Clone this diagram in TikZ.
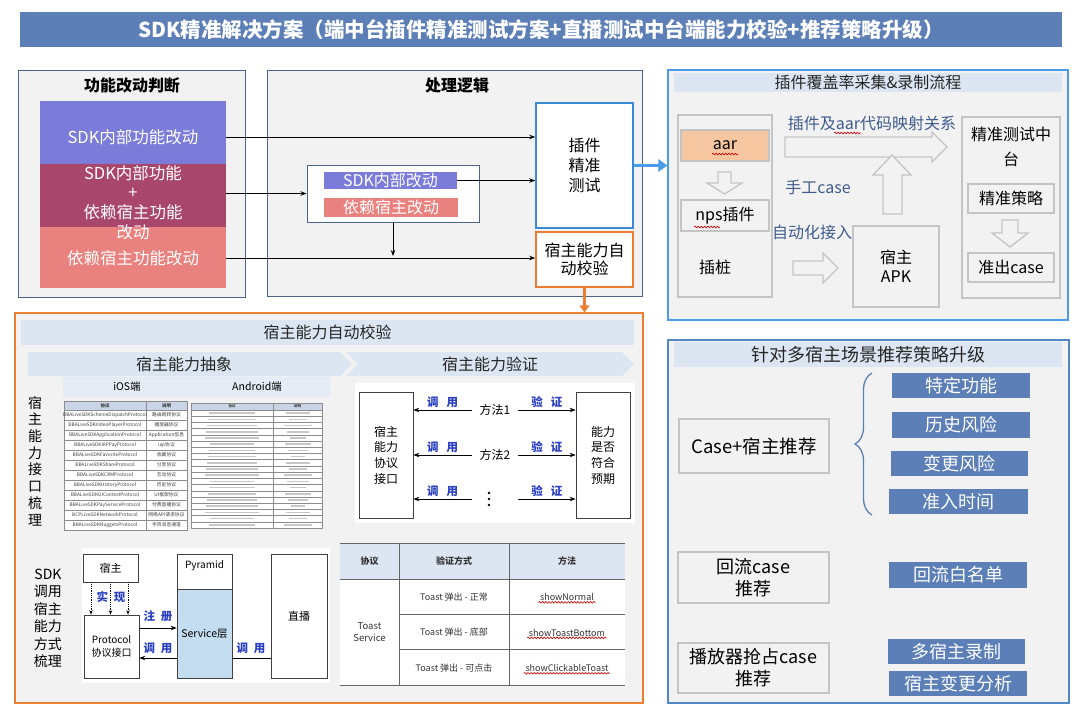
\documentclass[tikz,border=0pt]{standalone}
\usepackage{fontspec}
\setmainfont{Noto Sans CJK SC}
\usetikzlibrary{arrows.meta,calc,shapes.symbols,decorations.pathmorphing,decorations.pathreplacing}
\definecolor{barc}{HTML}{5B7FB6}
\definecolor{panelbg}{HTML}{F2F2F2}
\definecolor{edgec}{HTML}{4A6489}
\definecolor{violetc}{HTML}{7B7BD9}
\definecolor{plumc}{HTML}{A8476B}
\definecolor{salmonc}{HTML}{E9827E}
\definecolor{skyc}{HTML}{4A9BE8}
\definecolor{skyb}{HTML}{5286C6}
\definecolor{plugc}{HTML}{3C89D5}
\definecolor{orangec}{HTML}{ED7D31}
\definecolor{paleblue}{HTML}{DCE6F2}
\definecolor{headc}{HTML}{C9D5E6}
\definecolor{lineg}{HTML}{C4C4C4}
\definecolor{wordc}{HTML}{3F5C8C}
\definecolor{bluec}{HTML}{2A3FC0}
\definecolor{peach}{HTML}{F6C6A0}
\definecolor{servc}{HTML}{C5DDF1}
\newcommand{\fsz}[2]{\fontsize{#1}{#2}\selectfont}
\tikzset{
  ar/.style={-{Stealth[length=6pt,width=4.5pt]},line width=0.9pt,black},
  dotar/.style={-{Stealth[length=4.5pt,width=3.5pt]},densely dotted,line width=0.8pt,black},
  panel/.style={draw=edgec,fill=panelbg,line width=1pt,inner sep=0pt},
  blk/.style={inner sep=0pt},
  wtxt/.style={text=white,font=\fsz{16.5}{19.7},align=center},
  gbox/.style={draw=lineg,fill=panelbg,line width=1.2pt,inner sep=0pt,align=center,font=\fsz{16}{19}},
  wbox/.style={draw=black!75,fill=white,line width=0.7pt,inner sep=0pt,align=center},
  hbar/.style={fill=paleblue,inner sep=0pt,font=\fsz{16}{18},text=black!85},
  chev/.style={signal,fill=paleblue,inner sep=0pt,font=\fsz{16}{18},text=black!85},
  hollow/.style={draw=lineg,fill=panelbg,line width=1.3pt,line join=miter},
  wordt/.style={text=wordc,font=\fsz{16}{18}},
  blu/.style={text=bluec,font=\bfseries\fsz{11.5}{13}},
  tag/.style={fill=barc,text=white,inner sep=0pt,font=\fsz{18}{20}},
  ioscell/.style={inner sep=0pt,font=\fsz{4.8}{5.5},text=black!75},
  tcell/.style={inner sep=1.5pt,font=\fsz{9}{11},text=black!80},
  tline/.style={draw=black!45,line width=0.4pt},
  blurbar/.style={draw=black!22,line width=1.6pt},
  wavy/.style={draw=red!80!black,line width=0.6pt,decorate,decoration={snake,amplitude=0.9pt,segment length=3.2pt}},
  bracec/.style={draw=barc,line width=1.3pt,decorate,decoration={brace,amplitude=17pt}}
}
\begin{document}
\begin{tikzpicture}[x=1pt,y=-1pt]
\fill[white] (0,0) rectangle (1080,713);
\useasboundingbox (0,0) rectangle (1080,713);
\node[fill=barc,minimum width=1042,minimum height=35,inner sep=0pt,text=white,font=\bfseries\fsz{20.5}{22}] (title) at (541,29.5) {SDK精准解决方案（端中台插件精准测试方案+直播测试中台端能力校验+推荐策略升级）};

\node[panel,minimum width=227,minimum height=227] (judge) at (131.5,183.5) {};
\node[font=\bfseries\fsz{16}{19}] (judget) at (132,85) {功能改动判断};
\node[blk,fill=violetc,minimum width=186,minimum height=63] (sdkblk) at (133,132.5) {};
\node[blk,fill=plumc,minimum width=186,minimum height=63] (bothblk) at (133,195.5) {};
\node[blk,fill=salmonc,minimum width=186,minimum height=61] (hostblk) at (133,257.5) {};
\node[wtxt] (sdkt) at (133,137) {SDK内部功能改动};
\node[wtxt] (botht) at (133,202.5) {SDK内部功能\\+\\依赖宿主功能\\改动};
\node[wtxt] (hostt) at (133,258) {依赖宿主功能改动};

\node[panel,minimum width=375,minimum height=226] (logic) at (454.5,183) {};
\node[font=\bfseries\fsz{16}{19}] (logict) at (457,85) {处理逻辑};
\node[draw=edgec,fill=white,line width=1pt,inner sep=0pt,minimum width=172,minimum height=57] (mixbox) at (393,193.5) {};
\node[blk,fill=violetc,text=white,font=\fsz{16}{17},minimum width=133,minimum height=17] (sdkbar) at (390.5,180.5) {SDK内部改动};
\node[blk,fill=salmonc,text=white,font=\fsz{16}{17},minimum width=134,minimum height=19] (hostbar) at (391,207.5) {依赖宿主改动};
\node[draw=plugc,fill=white,line width=1.5pt,inner sep=0pt,align=center,font=\fsz{16}{20},minimum width=97,minimum height=125] (plug) at (584.5,165.5) {插件\\精准\\测试};
\node[draw=orangec,fill=white,line width=1.5pt,inner sep=0pt,align=center,font=\fsz{16}{18.5},minimum width=97,minimum height=55] (autochk) at (584.5,259.5) {宿主能力自\\动校验};
\draw[ar] (sdkblk.east |- sdkt) -- (plug.west |- sdkt);
\draw[ar] (bothblk.east |- mixbox) -- (mixbox.west);
\draw[ar] (sdkbar.east) -- (plug.west |- sdkbar.east);
\draw[ar] (hostblk.east |- hostt) -- (autochk.west |- hostt);
\draw[ar,shorten >=2pt] (mixbox.south) -- (mixbox.south |- hostt);

\node[panel,draw=skyc,line width=1.2pt,minimum width=400,minimum height=250] (cover) at (868,195) {};
\node[hbar,minimum width=388,minimum height=19] (covert) at (868,82.5) {插件覆盖率采集\&录制流程};
\node[gbox,minimum width=94,minimum height=182] (stub) at (725,206) {};
\node[gbox,fill=peach,minimum width=88,minimum height=31] (aar) at (725,145.5) {};
\node[font=\fsz{16}{18}] (aart) at (725,145) {aar};
\draw[hollow] (718,172) -- (731,172) -- (731,183) -- (742,183) -- (724.5,194) -- (707,183) -- (718,183) -- cycle;
\node[gbox,minimum width=88,minimum height=31] (nps) at (725,215.5) {nps插件};
\node[font=\fsz{16}{18}] (stubt) at (715,267) {插桩};
\node[wordt] (mapt) at (872,123) {插件及aar代码映射关系};
\draw[hollow] (785,137) -- (932,137) -- (932,132) -- (947,147) -- (932,162) -- (932,157) -- (785,157) -- cycle;
\draw[hollow] (883,214) -- (883,175) -- (873,175) -- (892,155) -- (911,175) -- (902,175) -- (902,214) -- cycle;
\node[wordt] (manual) at (818,187) {手工case};
\node[wordt] (autoin) at (812,232) {自动化接入};
\draw[hollow] (793,261) -- (823,261) -- (823,253) -- (838,268) -- (823,283) -- (823,275) -- (793,275) -- cycle;
\node[gbox,minimum width=86,minimum height=81] (apk) at (896,266.5) {宿主\\APK};
\node[gbox,minimum width=98,minimum height=181] (center) at (1011,207.5) {};
\node[font=\fsz{16}{25},align=center] (centert) at (1011,146.5) {精准测试中\\台};
\node[gbox,minimum width=86,minimum height=29] (strat) at (1011,198.5) {精准策略};
\draw[hollow] (1002,220) -- (1018,220) -- (1018,233) -- (1028,233) -- (1010,247) -- (992,233) -- (1002,233) -- cycle;
\node[gbox,minimum width=86,minimum height=29] (outcase) at (1011,267.5) {准出case};
\draw[wavy] (712,154) -- (738,154);
\draw[wavy] (694,227) -- (720,227);
\draw[wavy] (834,133) -- (861,133);
\draw[skyc,line width=3.5pt,-{Triangle[length=9pt,width=12pt]}] (plug.east) -- (plug.east -| cover.west);

\node[panel,draw=orangec,line width=1.2pt,minimum width=628,minimum height=390] (verif) at (329,508) {};
\draw[orangec,line width=3.5pt,-{Triangle[length=7pt,width=10pt]}] (autochk.south) -- (autochk.south |- verif.north);
\node[hbar,minimum width=613,minimum height=25] (verift) at (327.5,332.5) {宿主能力自动校验};
\node[chev,signal to=east,minimum width=324,minimum height=24] (abst) at (184,364) {宿主能力抽象};
\node[chev,signal from=west,signal to=east,minimum width=288,minimum height=24] (checkt) at (490,364) {宿主能力验证};
\node[font=\fsz{14}{16.7},align=center] (abstlab) at (35,461) {宿\\主\\能\\力\\接\\口\\梳\\理};

\node[blk,fill=paleblue!75!white,minimum width=267,minimum height=20] (ostop) at (196.5,387) {};
\node[font=\fsz{10.5}{12}] (iost) at (127,387) {iOS端};
\node[font=\fsz{10.5}{12}] (andt) at (257,387) {Android端};
\fill[white] (64,401) rectangle (187,530);
\fill[headc] (64,401) rectangle (187,410);
\foreach \k in {0,...,11} \draw[tline] (64,{410+10*\k}) -- (187,{410+10*\k});
\draw[tline] (64,401) rectangle (187,530) (146,401) -- (146,530);
\node[ioscell,font=\bfseries\fsz{4.5}{5}] (iosh1) at (105,405.5) {协议};
\node[ioscell,font=\bfseries\fsz{4.5}{5}] (iosh2) at (166.5,405.5) {说明};
\foreach \p/\d [count=\i] in {BBALiveSDKSchemeDispatchProtocol/路由跳转协议,BBALiveSDKVideoPlayerProtocol/播放器协议,BBALiveSDKApplicationProtocol/Application信息,BBALiveSDKIAPPayProtocol/iap协议,BBALiveSDKFavoriteProtocol/收藏协议,BBALiveSDKShareProtocol/分享协议,BBALiveSDKCRMProtocol/互动协议,BBALiveSDKHistoryProtocol/历史协议,BBALiveSDKUIContextProtocol/UI框架协议,BBALiveSDKPayServiceProtocol/付费直播协议,BCPLiveSDKNetworkProtocol/网络API请求协议,BBALiveSDKNuggetsProtocol/手百消息通道}{
  \node[ioscell] (iosp\i) at (105,{405+10*\i}) {\p};
  \node[ioscell] (iosd\i) at (166.5,{405+10*\i}) {\d};
}
\fill[white] (191,403) rectangle (322,528);
\fill[headc] (191,403) rectangle (322,410);
\foreach \k in {0,...,18} \draw[tline] (191,{410+6.21*\k}) -- (322,{410+6.21*\k});
\draw[tline] (191,403) rectangle (322,528) (273,403) -- (273,528);
\node[ioscell,font=\bfseries\fsz{3.5}{4}] (andh1) at (232,406.5) {协议};
\node[ioscell,font=\bfseries\fsz{3.5}{4}] (andh2) at (297.5,406.5) {说明};
\foreach \k in {1,...,19}{
  \pgfmathsetmacro\la{22+mod(7*\k,6)}
  \pgfmathsetmacro\lb{7+mod(5*\k,8)}
  \draw[blurbar] ({232-\la},{406.9+6.21*\k}) -- ({232+\la},{406.9+6.21*\k});
  \draw[blurbar] ({297.5-\lb},{406.9+6.21*\k}) -- ({297.5+\lb},{406.9+6.21*\k});
}

\node[blk,fill=white,minimum width=280,minimum height=140] (vbg) at (495,453) {};
\node[wbox,minimum width=54,minimum height=126,font=\fsz{12}{15.7}] (iface) at (386,455) {宿主\\能力\\协议\\接口};
\node[wbox,minimum width=54,minimum height=126,font=\fsz{12}{15.7}] (expect) at (603,455) {能力\\是否\\符合\\预期};
\node[inner sep=0pt,minimum width=46,font=\fsz{12}{14}] (m1) at (495,410) {方法1};
\node[inner sep=0pt,minimum width=46,font=\fsz{12}{14}] (m2) at (495,455) {方法2};
\coordinate (m3) at (489,499);
\foreach \dy in {-6,0,6} \fill ([yshift=\dy pt]m3) circle (1.4pt);
\foreach \r in {m1,m2,m3}{
  \draw[ar] (m1.west |- \r) -- (iface.east |- \r);
  \draw[ar] (m1.east |- \r) -- (expect.west |- \r);
  \node[blu,anchor=south,inner sep=2pt] at ($(m1.west |- \r)!0.5!(iface.east |- \r)$) {调\hspace{8pt}用};
  \node[blu,anchor=south,inner sep=2pt] at ($(m1.east |- \r)!0.5!(expect.west |- \r)$) {验\hspace{8pt}证};
}

\node[font=\fsz{14}{17.5},align=center] (calllab) at (48,618.5) {SDK\\调用\\宿主\\能力\\方式\\梳理};
\node[blk,fill=white,minimum width=248,minimum height=135] (callbg) at (206,615.5) {};
\node[wbox,minimum width=55,minimum height=28,font=\fsz{11}{13}] (hostb) at (110.5,568) {宿主};
\node[wbox,minimum width=55,minimum height=63,font=\fsz{10}{13}] (proto) at (111.5,646.5) {Protocol\\协议接口};
\node[wbox,minimum width=55,minimum height=124] (pyr) at (204.5,616) {};
\node[wbox,fill=servc,minimum width=55,minimum height=89,font=\fsz{10.5}{12}] (svc) at (204.5,633.5) {Service层};
\node[font=\fsz{10}{12}] (pyrt) at (204.5,566) {Pyramid};
\node[wbox,minimum width=56,minimum height=124,font=\fsz{11}{13}] (live) at (299,616) {直播};
\foreach \dx in {-19.5,0,17.5}
  \draw[dotar] ([xshift=\dx pt]hostb.south) -- ([xshift=\dx pt]hostb.south |- proto.north);
\node[blu] (impl) at (111,597) {实\hspace{6pt}现};
\coordinate (reg) at (158,628);
\coordinate (back) at (158,658);
\draw[ar] (proto.east |- reg) -- (svc.west |- reg);
\draw[ar] (svc.west |- back) -- (proto.east |- back);
\draw[line width=0.8pt] (live.west |- back) -- (svc.east |- back);
\node[blu] (regt) at (158,616) {注\hspace{6pt}册};
\node[blu] (backt) at (158,648) {调\hspace{6pt}用};
\node[blu] (livet) at (251,648) {调\hspace{6pt}用};

\fill[paleblue] (340,543) rectangle (625,579);
\fill[white] (340,579) rectangle (625,685);
\draw[draw=black!60,line width=0.8pt] (340,543) -- (625,543) (340,579) -- (625,579) (399,614) -- (625,614) (399,649) -- (625,649) (340,685) -- (625,685) (399,543) -- (399,685) (509,543) -- (509,685);
\node[tcell,font=\bfseries\fsz{9}{11}] (hp) at (369.5,561) {协议};
\node[tcell,font=\bfseries\fsz{9}{11}] (hm) at (454,561) {验证方式};
\node[tcell,font=\bfseries\fsz{9}{11}] (hf) at (567,561) {方法};
\node[tcell,align=center,font=\fsz{9.5}{12}] (toastsv) at (369.5,632) {Toast\\Service};
\foreach \w/\f/\yy [count=\i] in {正常/showNormal/597,底部/showToastBottom/632.5,可点击/showClickableToast/668}{
  \node[tcell] (way\i) at (454,\yy) {Toast 弹出 - \w};
  \node[tcell] (fn\i) at (567,\yy) {\f};
  \draw[wavy] (fn\i.south west) -- (fn\i.south east);
}

\node[panel,draw=skyb,line width=1.2pt,minimum width=401,minimum height=363] (reco) at (868.5,521.5) {};
\node[hbar,minimum width=388,minimum height=25,font=\fsz{18}{20}] (recot) at (868,354.5) {针对多宿主场景推荐策略升级};
\node[gbox,minimum width=150,minimum height=54,font=\fsz{18.5}{22}] (casehost) at (754,446) {Case+宿主推荐};
\node[tag,minimum width=138,minimum height=25] (t1) at (961,385.5) {特定功能};
\node[tag,minimum width=138,minimum height=26] (t2) at (961,425) {历史风险};
\node[tag,minimum width=137,minimum height=25] (t3) at (959.5,463.5) {变更风险};
\node[tag,minimum width=139,minimum height=25] (t4) at (958.5,501.5) {准入时间};
\draw[bracec] (872,515) -- (872,373);
\node[gbox,minimum width=151,minimum height=51,font=\fsz{18}{22}] (backflow) at (753.5,577.5) {回流case\\推荐};
\node[tag,minimum width=138,minimum height=26] (t5) at (958,575) {回流白名单};
\node[gbox,minimum width=151,minimum height=50,font=\fsz{18}{22}] (preempt) at (753.5,668) {播放器抢占case\\推荐};
\node[tag,minimum width=137,minimum height=25] (t6) at (956.5,651.5) {多宿主录制};
\node[tag,minimum width=138,minimum height=25] (t7) at (958,683.5) {宿主变更分析};
\end{tikzpicture}
\end{document}
